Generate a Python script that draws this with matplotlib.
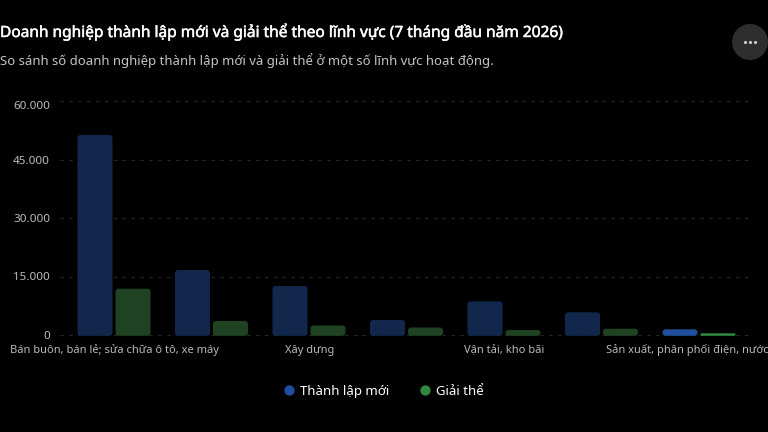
import matplotlib
matplotlib.use("Agg")
import matplotlib.pyplot as plt
import matplotlib.transforms as mtrans
import matplotlib.patheffects as pe
from matplotlib.patches import FancyBboxPatch, Circle
from matplotlib.lines import Line2D

W, H = 768, 432
FONT = ["Noto Sans", "DejaVu Sans"]
plt.rcParams["font.family"] = FONT

title = "Doanh nghiệp thành lập mới và giải thể theo lĩnh vực (7 tháng đầu năm 2026)"
subtitle = "So sánh số doanh nghiệp thành lập mới và giải thể ở một số lĩnh vực hoạt động."
category_labels = ["Bán buôn, bán lẻ; sửa chữa ô tô, xe máy", "", "Xây dựng", "", "Vận tải, kho bãi", "",
                   "Sản xuất, phân phối điện, nước"]
thanh_lap = [51280, 16670, 12560, 3850, 8640, 5820, 1460]
giai_the = [11870, 3590, 2440, 1920, 1280, 1620, 440]
y_ticks = [0, 15000, 30000, 45000, 60000]
y_tick_labels = ["0", "15.000", "30.000", "45.000", "60.000"]
legend_labels = ["Thành lập mới", "Giải thể"]

BLUE, BLUE_DIM = "#1f4f9c", "#11274b"
GREEN, GREEN_DIM = "#2f8a3e", "#1f4222"
HIGHLIGHT = 6

fig = plt.figure(figsize=(W / 100, H / 100), dpi=100, facecolor="black")
ax = fig.add_axes([60 / W, 1 - 335 / H, (752 - 60) / W, 234 / H], facecolor="black")
ax.set_ylim(0, 60000)
ax.set_xlim((60 - 114) / 97.5, (752 - 114) / 97.5)
for s in ax.spines.values():
    s.set_visible(False)

ax.set_yticks(y_ticks, y_tick_labels, color="#bcbcbc", fontsize=8.4)
ax.tick_params(axis="y", length=0, pad=7.2)
ax.set_xticks([])
ax.set_axisbelow(True)
ax.yaxis.grid(True, color="#262626", lw=0.8, ls=(0, (3, 5)), clip_on=False)
# the top label sits a little below its gridline in the reference
top = ax.get_yticklabels()[-1]
top.set_transform(top.get_transform() + mtrans.ScaledTranslation(0, -4 / 100, fig.dpi_scale_trans))

px_x = 1 / 97.5
px_y = 60000 / 234
bar_w = 35 * px_x
off = 19 * px_x
overhang = 0.8 * px_y  # bars cover the zero gridline


def rounded_bar(xc, value, color):
    h_px = (value + overhang) / px_y
    r = min(3.0, h_px / 2) * px_x
    patch = FancyBboxPatch((xc - bar_w / 2, -overhang), bar_w, value + overhang,
                           boxstyle=f"round,pad=0,rounding_size={r}",
                           mutation_aspect=px_y / px_x,
                           fc=color, ec="none", zorder=3, clip_on=False)
    ax.add_patch(patch)


for i, (a, b) in enumerate(zip(thanh_lap, giai_the)):
    rounded_bar(i - off, a, BLUE if i == HIGHLIGHT else BLUE_DIM)
    rounded_bar(i + off, b, GREEN if i == HIGHLIGHT else GREEN_DIM)

for i, label in enumerate(category_labels):
    if not label:
        continue
    last = i == len(category_labels) - 1
    ax.annotate(label, xy=(i, 0), xycoords=("data", "data"),
                xytext=(-93 * 0.72 if last else 0.4, -15.5 * 0.72), textcoords="offset points",
                ha="left" if last else "center", va="center",
                color="#b8b8b8", fontsize=8.0, annotation_clip=False)

fig.text(0, 1 - 31.5 / H, title, color="white", fontsize=11.15, fontweight="bold", va="center", ha="left",
         path_effects=[pe.withStroke(linewidth=0.35, foreground="white")])
fig.text(0, 1 - 61 / H, subtitle, color="#c4c4c4", fontsize=9.48, va="center", ha="left")

handles = [Line2D([], [], ls="", marker="o", ms=7.4, mfc=BLUE, mec="none"),
           Line2D([], [], ls="", marker="o", ms=7.4, mfc=GREEN, mec="none")]
fig.legend(handles, legend_labels, ncol=2, frameon=False, loc="center",
           bbox_to_anchor=(381 / W, 1 - 391.5 / H), labelcolor="white",
           fontsize=9.5, handletextpad=0.0, columnspacing=1.95, handlelength=1.6)

over = fig.add_axes([0, 0, 1, 1], facecolor="none")
over.set_xlim(0, W)
over.set_ylim(H, 0)
over.axis("off")
over.add_patch(Circle((750, 42), 18, fc="#2e2e2e", ec="none"))
over.plot([745, 750, 755], [42, 42, 42], ls="", marker="o", ms=2.3, mfc="#cccccc", mec="none")

fig.savefig("out.png", dpi=100, facecolor="black")
